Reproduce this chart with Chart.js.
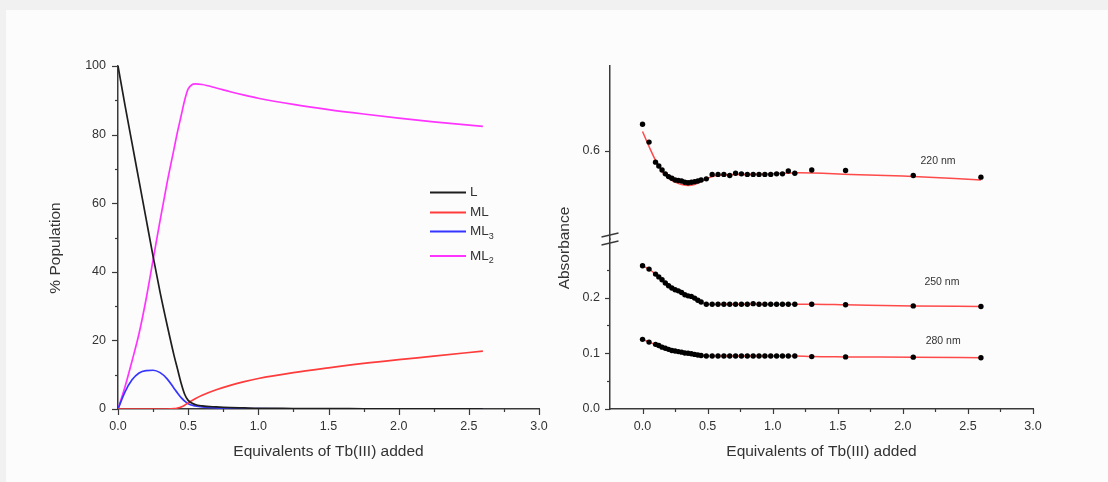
<!DOCTYPE html>
<html lang="en">
<head>
<meta charset="UTF-8">
<title>Tb(III) titration - speciation and absorbance</title>
<script src="https://cdn.jsdelivr.net/npm/chart.js"></script>
<style>
  body {
    margin: 0;
    width: 1108px;
    height: 482px;
    overflow: hidden;
    position: relative;
    background: #f1f1f1;
  }
  .panel {
    position: absolute;
    left: 6px;
    top: 10px;
    right: 0;
    bottom: 0;
    background: #fcfcfc;
  }
  canvas { position: absolute; top: 0; }
  #popChart { left: 0; }
  #absChart { left: 545px; }
</style>
</head>
<body>
<div class="panel"></div>
<canvas id="popChart" width="560" height="482"></canvas>
<canvas id="absChart" width="563" height="482"></canvas>

<script>
  // ---- left panel: species distribution (% population) ----
  const eqPop  = [0, 0.05, 0.1, 0.15, 0.2, 0.25, 0.3, 0.35, 0.4, 0.425, 0.45, 0.475, 0.5, 0.55, 0.6, 0.7, 0.8, 0.9, 1.0, 1.25, 1.5, 1.75, 2.0, 2.25, 2.6];
  const popL   = [100, 88.5, 77.5, 66.5, 55.5, 44.5, 34, 24.5, 15.5, 11.5, 7.5, 4.3, 2.5, 1.3, 0.9, 0.6, 0.4, 0.3, 0.2, 0.15, 0.1, 0.08, 0.06, 0.05, 0.04];
  const popML  = [0, 0, 0, 0, 0, 0, 0, 0, 0.1, 0.3, 0.6, 1.1, 1.8, 3.0, 4.0, 5.6, 6.9, 8.0, 8.9, 10.6, 12.0, 13.3, 14.4, 15.4, 16.9];
  const popML3 = [0, 5.0, 8.5, 10.5, 11.2, 11.3, 10.6, 8.8, 6.0, 4.6, 3.3, 2.3, 1.5, 0.9, 0.6, 0.35, 0.2, 0.15, 0.1, 0.07, 0.05, 0.04, 0.03, 0.02, 0.01];
  const popML2 = [0, 6.5, 14, 22, 32, 43.5, 55, 66, 76, 81, 85.5, 90, 93.3, 94.8, 94.6, 93.6, 92.5, 91.5, 90.6, 88.8, 87.3, 86, 84.8, 83.7, 82.4];

  const speciesNames = ['L', 'ML', 'ML', 'ML'];
  const speciesSubs  = ['', '', '3', '2'];

  // ---- right panel: absorbance at three wavelengths ----
  const eqAbs = [0, 0.05, 0.1, 0.125, 0.15, 0.175, 0.2, 0.225, 0.25, 0.275, 0.3, 0.325, 0.35, 0.375, 0.4, 0.425, 0.45,
                 0.49, 0.535, 0.58, 0.625, 0.67, 0.715, 0.76, 0.805, 0.85, 0.895, 0.94, 0.985, 1.03, 1.075, 1.12, 1.17,
                 1.30, 1.56, 2.08, 2.60];
  const abs220 = [0.648, 0.616, 0.580, 0.573, 0.566, 0.559, 0.554, 0.551, 0.548, 0.547, 0.546, 0.544, 0.543, 0.544, 0.545, 0.546, 0.548,
                  0.550, 0.558, 0.558, 0.558, 0.556, 0.560, 0.559, 0.558, 0.558, 0.558, 0.558, 0.558, 0.559, 0.559, 0.564, 0.560,
                  0.566, 0.565, 0.556, 0.553];
  const abs250 = [0.257, 0.251, 0.242, 0.237, 0.232, 0.226, 0.221, 0.217, 0.214, 0.212, 0.209, 0.205, 0.203, 0.202, 0.199, 0.195, 0.192,
                  0.188, 0.188, 0.188, 0.188, 0.188, 0.188, 0.188, 0.188, 0.189, 0.188, 0.188, 0.188, 0.188, 0.188, 0.188, 0.188,
                  0.188, 0.187, 0.185, 0.184];
  const abs280 = [0.125, 0.120, 0.116, 0.114, 0.111, 0.109, 0.107, 0.105, 0.104, 0.103, 0.102, 0.1005, 0.100, 0.099, 0.098, 0.097, 0.096,
                  0.095, 0.095, 0.095, 0.095, 0.095, 0.095, 0.095, 0.095, 0.095, 0.095, 0.095, 0.095, 0.095, 0.095, 0.095, 0.095,
                  0.094, 0.0935, 0.093, 0.092];
  const fitEq220 = [0, 0.05, 0.1, 0.15, 0.2, 0.25, 0.3, 0.35, 0.4, 0.45, 0.5, 0.55, 0.6, 0.8, 1.0, 1.2, 1.6, 2.0, 2.6];
  const fit220   = [0.635, 0.608, 0.583, 0.563, 0.551, 0.544, 0.540, 0.538, 0.540, 0.545, 0.551, 0.555, 0.557, 0.558, 0.559, 0.561, 0.558, 0.555, 0.548];

  const waveLabels = ['220 nm', '250 nm', '280 nm'];
  const waveLabelX = [2.27, 2.30, 2.31];
  const waveLabelY = [0.582, 0.2285, 0.122];
  const waveLabelAxis = ['yHigh', 'yLow', 'yLow'];

  // ---- ticks ----
  const eqTicks      = [0, 0.5, 1.0, 1.5, 2.0, 2.5, 3.0];
  const eqMinor      = [0.25, 0.75, 1.25, 1.75, 2.25, 2.75];
  const popTicks     = [0, 20, 40, 60, 80, 100];
  const popMinor     = [10, 30, 50, 70, 90];
  const absLowTicks  = [0, 0.1, 0.2];
  const absLowMinor  = [0.05, 0.15, 0.25];
  const absHighTicks = [0.6];

  const FONT = "'Liberation Sans', Arial, sans-serif";
  const axisColor = '#3a3a3a';
  const textColor = '#333333';
  const fitRed = '#ff4a4a';

  Chart.defaults.font.family = FONT;
  Chart.defaults.color = textColor;

  function xy(xs, ys) {
    return xs.map((x, i) => ({ x: x, y: ys[i] }));
  }

  function fixTicks(values) {
    return scale => { scale.ticks = values.map(v => ({ value: v })); };
  }

  // tick marks drawn outside the axes, major and minor
  function tickMarkPlugin(marks) {
    return {
      id: 'tickMarks',
      afterDraw(chart) {
        const ctx = chart.ctx;
        ctx.save();
        ctx.strokeStyle = axisColor;
        ctx.lineWidth = 1.2;
        marks.forEach(m => {
          const s = chart.scales[m.scale];
          m.values.forEach(v => {
            const p = Math.round(s.getPixelForValue(v)) + 0.5;
            ctx.beginPath();
            if (s.isHorizontal()) {
              ctx.moveTo(p, s.top);
              ctx.lineTo(p, s.top + m.len);
            } else {
              ctx.moveTo(s.right, p);
              ctx.lineTo(s.right - m.len, p);
            }
            ctx.stroke();
          });
        });
        ctx.restore();
      }
    };
  }

  function yTitlePlugin(text, x, y) {
    return {
      id: 'yTitle',
      afterDraw(chart) {
        const ctx = chart.ctx;
        ctx.save();
        ctx.translate(x, y);
        ctx.rotate(-Math.PI / 2);
        ctx.font = '15.5px ' + FONT;
        ctx.fillStyle = textColor;
        ctx.textAlign = 'center';
        ctx.textBaseline = 'middle';
        ctx.fillText(text, 0, 0);
        ctx.restore();
      }
    };
  }

  const xTitle = {
    display: true,
    text: 'Equivalents of Tb(III) added',
    color: textColor,
    font: { family: FONT, size: 15.5 },
    padding: { top: 0, bottom: 21 }
  };
  const tickFont = { family: FONT, size: 12.5 };

  // ---------- left chart ----------
  const speciesColors = ['#1e1e1e', '#ff3b3b', '#3535ff', '#ff35ff'];
  const speciesData = [popL, popML, popML3, popML2];

  const legendPlugin = {
    id: 'speciesLegend',
    afterDraw(chart) {
      const ctx = chart.ctx;
      const a = chart.chartArea;
      const rows = [126.5, 146.5, 165.5, 190];
      ctx.save();
      speciesNames.forEach((name, i) => {
        const y = a.top + rows[i];
        ctx.strokeStyle = speciesColors[i];
        ctx.lineWidth = 1.8;
        ctx.beginPath();
        ctx.moveTo(a.left + 312, y);
        ctx.lineTo(a.left + 348, y);
        ctx.stroke();
        ctx.fillStyle = textColor;
        ctx.font = '13.5px ' + FONT;
        ctx.textBaseline = 'middle';
        ctx.textAlign = 'left';
        ctx.fillText(name, a.left + 352, y);
        if (speciesSubs[i]) {
          const w = ctx.measureText(name).width;
          ctx.font = '9px ' + FONT;
          ctx.fillText(speciesSubs[i], a.left + 352 + w, y + 5);
        }
      });
      ctx.restore();
    }
  };

  new Chart(document.getElementById('popChart'), {
    type: 'scatter',
    data: {
      datasets: speciesData.map((d, i) => ({
        label: speciesNames[i] + speciesSubs[i],
        data: xy(eqPop, d),
        showLine: true,
        borderColor: speciesColors[i],
        borderWidth: 1.7,
        pointRadius: 0,
        cubicInterpolationMode: 'monotone'
      }))
    },
    options: {
      responsive: false,
      animation: false,
      layout: { padding: { left: 44, right: 21, top: 66, bottom: 0 } },
      plugins: { legend: { display: false }, tooltip: { enabled: false } },
      scales: {
        x: {
          type: 'linear', min: 0, max: 3,
          afterBuildTicks: fixTicks(eqTicks),
          afterFit: s => { s.height = 73; },
          grid: { display: false, drawTicks: false },
          border: { color: axisColor, width: 1.5 },
          ticks: { padding: 10, color: textColor, font: tickFont, callback: v => v.toFixed(1) },
          title: xTitle
        },
        y: {
          type: 'linear', min: 0, max: 100,
          afterBuildTicks: fixTicks(popTicks),
          afterFit: s => { s.width = 74; },
          grid: { display: false, drawTicks: false },
          border: { color: axisColor, width: 1.5 },
          ticks: { padding: 12, color: textColor, font: tickFont, callback: v => String(v) }
        }
      }
    },
    plugins: [
      tickMarkPlugin([
        { scale: 'x', values: eqTicks, len: 6 },
        { scale: 'x', values: eqMinor, len: 3 },
        { scale: 'y', values: popTicks, len: 6 },
        { scale: 'y', values: popMinor, len: 3 }
      ]),
      yTitlePlugin('% Population', 55.5, 248),
      legendPlugin
    ]
  });

  // ---------- right chart ----------
  const breakPlugin = {
    id: 'axisBreak',
    afterDraw(chart) {
      const s = chart.scales.yLow;
      const x = s.right, y = s.top;
      const ctx = chart.ctx;
      ctx.save();
      ctx.strokeStyle = axisColor;
      ctx.lineWidth = 1.3;
      [-4, 4].forEach(dy => {
        ctx.beginPath();
        ctx.moveTo(x - 8.5, y + dy + 2);
        ctx.lineTo(x + 8.5, y + dy - 2);
        ctx.stroke();
      });
      ctx.restore();
    }
  };

  const waveLabelPlugin = {
    id: 'waveLabels',
    afterDraw(chart) {
      const ctx = chart.ctx;
      ctx.save();
      ctx.font = '10.5px ' + FONT;
      ctx.fillStyle = textColor;
      ctx.textAlign = 'center';
      ctx.textBaseline = 'middle';
      waveLabels.forEach((t, i) => {
        const px = chart.scales.x.getPixelForValue(waveLabelX[i]);
        const py = chart.scales[waveLabelAxis[i]].getPixelForValue(waveLabelY[i]);
        ctx.fillText(t, px, py);
      });
      ctx.restore();
    }
  };

  const dots = (ys, axis) => ({
    data: xy(eqAbs, ys),
    yAxisID: axis,
    showLine: false,
    pointRadius: 2.7,
    pointBackgroundColor: '#000',
    pointBorderWidth: 0
  });
  const fitLine = (xs, ys, axis) => ({
    data: xy(xs, ys),
    yAxisID: axis,
    showLine: true,
    borderColor: fitRed,
    borderWidth: 1.5,
    pointRadius: 0,
    cubicInterpolationMode: 'monotone'
  });

  new Chart(document.getElementById('absChart'), {
    type: 'scatter',
    data: {
      datasets: [
        dots(abs220, 'yHigh'),
        dots(abs250, 'yLow'),
        dots(abs280, 'yLow'),
        fitLine(fitEq220, fit220, 'yHigh'),
        fitLine(eqAbs, abs250, 'yLow'),
        fitLine(eqAbs, abs280, 'yLow')
      ]
    },
    options: {
      responsive: false,
      animation: false,
      layout: { padding: { left: 8, right: 75, top: 66, bottom: 0 } },
      plugins: { legend: { display: false }, tooltip: { enabled: false } },
      scales: {
        x: {
          type: 'linear', min: -0.25, max: 3,
          afterBuildTicks: fixTicks(eqTicks),
          afterFit: s => { s.height = 73; },
          grid: { display: false, drawTicks: false },
          border: { color: axisColor, width: 1.5 },
          ticks: { padding: 10, color: textColor, font: tickFont, callback: v => v.toFixed(1) },
          title: xTitle
        },
        yLow: {
          type: 'linear', position: 'left', min: 0, max: 0.305,
          stack: 'abs', stackWeight: 170,
          afterBuildTicks: fixTicks(absLowTicks),
          afterFit: s => { s.width = 57; },
          grid: { display: false, drawTicks: false },
          border: { color: axisColor, width: 1.5 },
          ticks: { padding: 10, color: textColor, font: tickFont, callback: v => v.toFixed(1) }
        },
        yHigh: {
          type: 'linear', position: 'left', min: 0.442, max: 0.7526,
          stack: 'abs', stackWeight: 173,
          afterBuildTicks: fixTicks(absHighTicks),
          afterFit: s => { s.width = 57; },
          grid: { display: false, drawTicks: false },
          border: { color: axisColor, width: 1.5 },
          ticks: { padding: 10, color: textColor, font: tickFont, callback: v => v.toFixed(1) }
        }
      }
    },
    plugins: [
      tickMarkPlugin([
        { scale: 'x', values: eqTicks, len: 5 },
        { scale: 'x', values: eqMinor, len: 3 },
        { scale: 'yLow', values: absLowTicks, len: 5 },
        { scale: 'yLow', values: absLowMinor, len: 3 },
        { scale: 'yHigh', values: absHighTicks, len: 5 }
      ]),
      yTitlePlugin('Absorbance', 20, 248),
      breakPlugin,
      waveLabelPlugin
    ]
  });
</script>
</body>
</html>
